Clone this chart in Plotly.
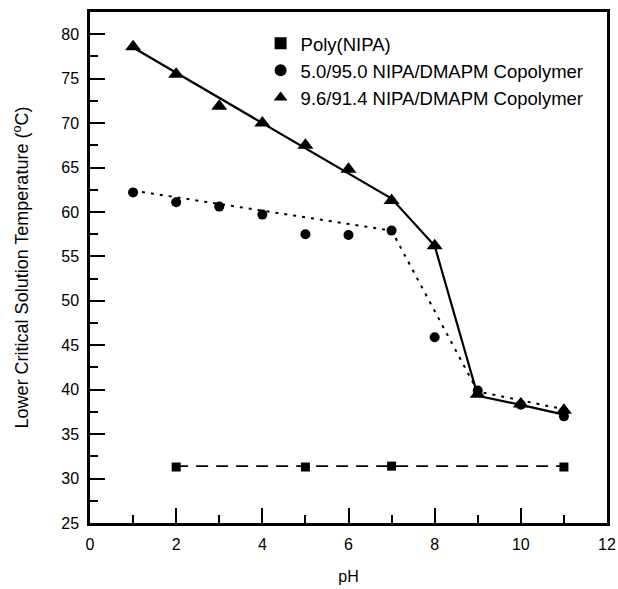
import plotly.graph_objects as go

# Measured LCST values (°C) versus pH
ph = [1, 2, 3, 4, 5, 6, 7, 8, 9, 10, 11]
lcst_96 = [78.6, 75.5, 71.9, 70.0, 67.5, 64.8, 61.3, 56.2, 39.5, 38.4, 37.7]
lcst_50 = [62.2, 61.1, 60.6, 59.7, 57.5, 57.4, 57.9, 45.9, 39.9, 38.3, 37.0]
ph_nipa = [2, 5, 7, 11]
lcst_nipa = [31.3, 31.3, 31.4, 31.3]

# Piecewise trend lines
fit_96_x = [1, 7, 8, 9, 10, 11]
fit_96_y = [78.5, 61.5, 56.2, 39.3, 38.3, 37.2]
fit_50_x = [1, 7, 9, 11]
fit_50_y = [62.4, 57.9, 39.8, 37.8]
fit_nipa_x = [2, 11]
fit_nipa_y = [31.4, 31.4]

names = ["Poly(NIPA)",
         "5.0/95.0 NIPA/DMAPM Copolymer",
         "9.6/91.4 NIPA/DMAPM Copolymer"]

FONT = "Arial, 'Liberation Sans', Helvetica, sans-serif"

fig = go.Figure()

# trend lines (no legend entries)
fig.add_trace(go.Scatter(x=fit_nipa_x, y=fit_nipa_y, mode="lines",
                         line=dict(color="black", width=1.8, dash="12px,8px"),
                         showlegend=False, hoverinfo="skip"))
fig.add_trace(go.Scatter(x=fit_50_x, y=fit_50_y, mode="lines",
                         line=dict(color="black", width=2, dash="3px,6px"),
                         showlegend=False, hoverinfo="skip"))
fig.add_trace(go.Scatter(x=fit_96_x, y=fit_96_y, mode="lines",
                         line=dict(color="black", width=2.2),
                         showlegend=False, hoverinfo="skip"))

# data points
fig.add_trace(go.Scatter(x=ph_nipa, y=lcst_nipa, mode="markers", name=names[0],
                         marker=dict(symbol="square", size=9, color="black")))
fig.add_trace(go.Scatter(x=ph, y=lcst_50, mode="markers", name=names[1],
                         marker=dict(symbol="circle", size=10, color="black")))
fig.add_trace(go.Scatter(x=ph, y=lcst_96, mode="markers", name=names[2],
                         marker=dict(symbol="triangle-up", size=14, color="black")))

axis_common = dict(
    showline=True, linecolor="black", linewidth=2.5, mirror=True,
    showgrid=False, zeroline=False, automargin=False,
    ticks="inside", tickcolor="black", tickwidth=2,
    tickfont=dict(family=FONT, size=16, color="black"),
)

fig.update_xaxes(
    range=[0, 12], dtick=2, tick0=0, ticklen=15,
    minor=dict(dtick=1, ticks="inside", ticklen=8,
               tickcolor="black", tickwidth=2),
    ticklabelstandoff=5,
    title=dict(text="pH", font=dict(family=FONT, size=16, color="black"),
               standoff=19),
    **axis_common,
)
fig.update_yaxes(
    range=[25, 82.5], dtick=5, tick0=25, ticklen=15,
    minor=dict(dtick=2.5, ticks="inside", ticklen=8,
               tickcolor="black", tickwidth=2),
    ticklabelstandoff=5,
    title=dict(text="Lower Critical Solution Temperature (<sup>o</sup>C)",
               font=dict(family=FONT, size=18, color="black"), standoff=28),
    **axis_common,
)

fig.update_layout(
    width=618, height=589,
    margin=dict(l=90, r=11, t=12, b=66),
    paper_bgcolor="white", plot_bgcolor="white",
    font=dict(family=FONT, size=16, color="black"),
    legend=dict(x=0.33, y=0.975, xanchor="left", yanchor="top",
                bgcolor="rgba(0,0,0,0)", borderwidth=0,
                font=dict(family=FONT, size=18.5, color="black"),
                itemsizing="constant", tracegroupgap=0),
)

fig.write_html("out.html")
